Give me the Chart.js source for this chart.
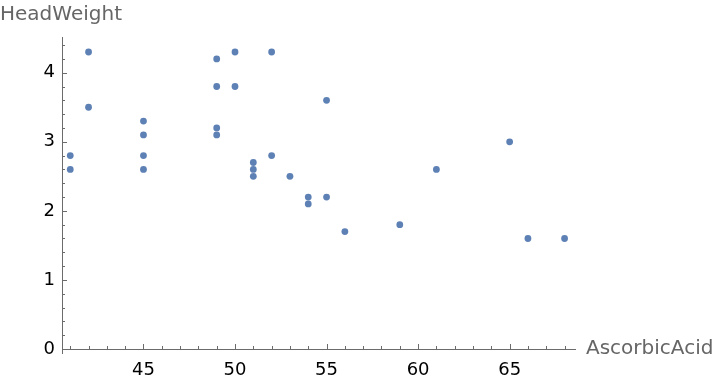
<!DOCTYPE html>
<html>
<head>
<meta charset="utf-8">
<script src="https://cdn.jsdelivr.net/npm/chart.js@4/dist/chart.umd.min.js"></script>
<style>
  html, body { margin: 0; padding: 0; background: #fff; }
  #wrap { width: 720px; height: 380px; position: relative; }
</style>
</head>
<body>
<div id="wrap"><canvas id="chart"></canvas></div>
<script>
// dados
const ascorbicAcid = [41, 41, 42, 42, 45, 45, 45, 45, 49, 49, 49, 49, 50, 50, 52, 52, 55, 51, 51, 51, 53, 54, 54, 55, 56, 59, 61, 65, 66, 68];
const headWeight = [2.8, 2.6, 4.3, 3.5, 3.3, 3.1, 2.8, 2.6, 4.2, 3.8, 3.2, 3.1, 4.3, 3.8, 4.3, 2.8, 3.6, 2.7, 2.6, 2.5, 2.5, 2.2, 2.1, 2.2, 1.7, 1.8, 2.6, 3.0, 1.6, 1.6];
const xTicks = [45, 50, 55, 60, 65];
const yTicks = [0, 1, 2, 3, 4];
const xLabel = 'AscorbicAcid';
const yLabel = 'HeadWeight';

const axisColor = '#6b6b6b';
const fontFamily = '"DejaVu Sans", sans-serif';

// ticks pra dentro, estilo Mathematica
const ticksPlugin = {
    id: 'innerTicks',
    afterDraw(chart) {
        const ctx = chart.ctx;
        const xs = chart.scales.x;
        const ys = chart.scales.y;
        const area = chart.chartArea;
        ctx.save();
        ctx.strokeStyle = axisColor;
        ctx.lineWidth = 1;
        ctx.beginPath();
        for (let v = Math.ceil(xs.min); v <= xs.max; v++) {
            const px = Math.round(xs.getPixelForValue(v)) + 0.5;
            const len = v % 5 === 0 ? 5 : 3;
            ctx.moveTo(px, area.bottom);
            ctx.lineTo(px, area.bottom - len);
        }
        for (let i = 0; i * 0.2 <= ys.max; i++) {
            const py = Math.round(ys.getPixelForValue(i * 0.2)) + 0.5;
            const len = i % 5 === 0 ? 5 : 3;
            ctx.moveTo(area.left, py);
            ctx.lineTo(area.left + len, py);
        }
        // eixo y passa um pouco abaixo do eixo x
        ctx.moveTo(area.left + 0.5, area.bottom);
        ctx.lineTo(area.left + 0.5, area.bottom + 5);
        ctx.stroke();

        ctx.fillStyle = '#666';
        ctx.font = '20px ' + fontFamily;
        ctx.textBaseline = 'alphabetic';
        ctx.textAlign = 'left';
        ctx.fillText(yLabel, 0, 20);
        ctx.fillText(xLabel, 586, 354);
        ctx.restore();
    }
};

new Chart(document.getElementById('chart'), {
    type: 'scatter',
    data: {
        datasets: [{
            data: ascorbicAcid.map((x, i) => ({ x: x, y: headWeight[i] })),
            backgroundColor: '#5e81b5',
            borderColor: '#5e81b5',
            borderWidth: 0,
            pointRadius: 3.4,
            pointHoverRadius: 3.4
        }]
    },
    options: {
        responsive: true,
        maintainAspectRatio: false,
        animation: false,
        layout: { padding: { top: 37, right: 145, left: 0, bottom: 0 } },
        plugins: {
            legend: { display: false },
            tooltip: { enabled: false }
        },
        scales: {
            x: {
                type: 'linear',
                min: 40.55,
                max: 68.57,
                grid: { display: false, drawTicks: false },
                border: { color: axisColor, width: 1 },
                afterBuildTicks: scale => { scale.ticks = xTicks.map(v => ({ value: v })); },
                afterFit: scale => { scale.height = 31; },
                ticks: {
                    color: '#000',
                    padding: 11,
                    font: { family: fontFamily, size: 18 }
                }
            },
            y: {
                type: 'linear',
                min: 0,
                max: 4.517,
                grid: { display: false, drawTicks: false },
                border: { color: axisColor, width: 1 },
                afterBuildTicks: scale => { scale.ticks = yTicks.map(v => ({ value: v })); },
                afterFit: scale => { scale.width = 62; },
                ticks: {
                    color: '#000',
                    padding: 7,
                    font: { family: fontFamily, size: 18 }
                }
            }
        }
    },
    plugins: [ticksPlugin]
});
</script>
</body>
</html>
